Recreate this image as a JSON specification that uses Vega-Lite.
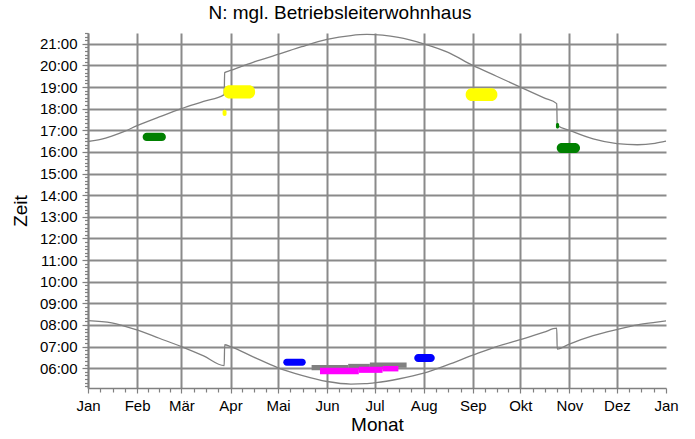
{
  "$schema": "https://vega.github.io/schema/vega-lite/v6.json",
  "width": 578,
  "height": 355,
  "autosize": {"type": "none"},
  "padding": {"left": 88, "top": 33, "right": 29, "bottom": 51},
  "background": "white",
  "title": {"text": "N: mgl. Betriebsleiterwohnhaus", "font": "Liberation Sans", "fontSize": 19, "fontWeight": "normal", "color": "black", "offset": 9, "anchor": "middle", "dx": -37},
  "config": {
    "view": {"stroke": null},
    "axis": {
      "domainColor": "#808080", "domainWidth": 1.5,
      "tickColor": "#808080", "tickWidth": 1.2,
      "gridColor": "#8a8a8a", "gridWidth": 2,
      "labelFont": "Liberation Sans", "labelFontSize": 15, "labelColor": "black",
      "titleFont": "Liberation Sans", "titleFontSize": 19, "titleFontWeight": "normal", "titleColor": "black",
      "labelOverlap": false, "labelFlush": false
    }
  },
  "datasets": {
    "sun": [
      {"s": "Aufgang", "d": 0, "t": 492}, {"s": "Aufgang", "d": 15, "t": 486}, {"s": "Aufgang", "d": 31, "t": 466},
      {"s": "Aufgang", "d": 45, "t": 443}, {"s": "Aufgang", "d": 59, "t": 420}, {"s": "Aufgang", "d": 73, "t": 394},
      {"s": "Aufgang", "d": 86, "t": 367}, {"s": "Aufgang", "d": 86.3, "t": 425}, {"s": "Aufgang", "d": 90, "t": 420},
      {"s": "Aufgang", "d": 105, "t": 390}, {"s": "Aufgang", "d": 120, "t": 361}, {"s": "Aufgang", "d": 135, "t": 340},
      {"s": "Aufgang", "d": 151, "t": 323}, {"s": "Aufgang", "d": 166, "t": 316}, {"s": "Aufgang", "d": 175, "t": 317},
      {"s": "Aufgang", "d": 182, "t": 320}, {"s": "Aufgang", "d": 196, "t": 330}, {"s": "Aufgang", "d": 212, "t": 346},
      {"s": "Aufgang", "d": 227, "t": 369}, {"s": "Aufgang", "d": 243, "t": 396}, {"s": "Aufgang", "d": 258, "t": 420},
      {"s": "Aufgang", "d": 273, "t": 439}, {"s": "Aufgang", "d": 288, "t": 460}, {"s": "Aufgang", "d": 296, "t": 471},
      {"s": "Aufgang", "d": 296.3, "t": 413}, {"s": "Aufgang", "d": 304, "t": 427}, {"s": "Aufgang", "d": 319, "t": 450},
      {"s": "Aufgang", "d": 334, "t": 467}, {"s": "Aufgang", "d": 347, "t": 480}, {"s": "Aufgang", "d": 358, "t": 487},
      {"s": "Aufgang", "d": 365, "t": 491},
      {"s": "Untergang", "d": 0, "t": 989}, {"s": "Untergang", "d": 8, "t": 995}, {"s": "Untergang", "d": 15, "t": 1004},
      {"s": "Untergang", "d": 23, "t": 1017}, {"s": "Untergang", "d": 31, "t": 1033},
      {"s": "Untergang", "d": 45, "t": 1057}, {"s": "Untergang", "d": 59, "t": 1080}, {"s": "Untergang", "d": 73, "t": 1100},
      {"s": "Untergang", "d": 86, "t": 1119}, {"s": "Untergang", "d": 86.3, "t": 1180}, {"s": "Untergang", "d": 90, "t": 1186},
      {"s": "Untergang", "d": 105, "t": 1210}, {"s": "Untergang", "d": 121, "t": 1232}, {"s": "Untergang", "d": 135, "t": 1252},
      {"s": "Untergang", "d": 151, "t": 1272}, {"s": "Untergang", "d": 166, "t": 1283}, {"s": "Untergang", "d": 176, "t": 1286},
      {"s": "Untergang", "d": 186, "t": 1284}, {"s": "Untergang", "d": 196, "t": 1278}, {"s": "Untergang", "d": 212, "t": 1260},
      {"s": "Untergang", "d": 227, "t": 1237}, {"s": "Untergang", "d": 243, "t": 1200}, {"s": "Untergang", "d": 258, "t": 1170},
      {"s": "Untergang", "d": 273, "t": 1140}, {"s": "Untergang", "d": 288, "t": 1110}, {"s": "Untergang", "d": 296, "t": 1094},
      {"s": "Untergang", "d": 296.3, "t": 1034}, {"s": "Untergang", "d": 304, "t": 1020}, {"s": "Untergang", "d": 319, "t": 996},
      {"s": "Untergang", "d": 334, "t": 983}, {"s": "Untergang", "d": 347, "t": 980}, {"s": "Untergang", "d": 358, "t": 984},
      {"s": "Untergang", "d": 365, "t": 990}
    ],
    "schatten": [
      {"wea": "WEA 1", "d1": 34.5, "d2": 49.2, "t1": 990, "t2": 1013},
      {"wea": "WEA 1", "d1": 295.5, "d2": 297.5, "t1": 1025, "t2": 1040},
      {"wea": "WEA 1", "d1": 296, "d2": 310.7, "t1": 957, "t2": 985},
      {"wea": "WEA 2", "d1": 85.5, "d2": 105.5, "t1": 1108, "t2": 1145},
      {"wea": "WEA 2", "d1": 85, "d2": 87.5, "t1": 1060, "t2": 1077},
      {"wea": "WEA 2", "d1": 238.5, "d2": 258.5, "t1": 1101, "t2": 1137},
      {"wea": "WEA 3", "d1": 123.3, "d2": 137.5, "t1": 367, "t2": 386},
      {"wea": "WEA 3", "d1": 206, "d2": 219, "t1": 377, "t2": 399},
      {"wea": "WEA 4", "d1": 141.2, "d2": 164.3, "t1": 354, "t2": 369},
      {"wea": "WEA 4", "d1": 164.3, "d2": 178, "t1": 357, "t2": 372},
      {"wea": "WEA 4", "d1": 178, "d2": 201.2, "t1": 361, "t2": 376},
      {"wea": "WEA 5", "d1": 146.5, "d2": 171, "t1": 343, "t2": 361},
      {"wea": "WEA 5", "d1": 171, "d2": 186, "t1": 347, "t2": 364},
      {"wea": "WEA 5", "d1": 186, "d2": 196, "t1": 351, "t2": 366}
    ]
  },
  "resolve": {"axis": {"x": "independent", "y": "independent"}},
  "layer": [
    {
      "data": {"values": [{"d": 0, "t": 305}]},
      "mark": {"type": "point", "opacity": 0},
      "encoding": {
        "x": {"field": "d", "type": "quantitative", "scale": {"domain": [0, 365], "nice": false, "zero": false},
          "axis": {"orient": "bottom", "title": null, "labels": false, "grid": false, "domain": false, "tickSize": 4,
            "values": [7.75, 15.5, 23.25, 38, 45, 52, 66.75, 74.5, 82.25, 97.5, 105, 112.5, 127.75, 135.5, 143.25, 158.5, 166, 173.5, 188.75, 196.5, 204.25, 219.75, 227.5, 235.25, 250.5, 258, 265.5, 280.75, 288.5, 296.25, 311.5, 319, 326.5, 341.75, 349.5, 357.25]}},
        "y": {"field": "t", "type": "quantitative", "scale": {"domain": [305, 1290], "nice": false, "zero": false},
          "axis": {"orient": "left", "title": null, "labels": false, "grid": false, "domain": false, "tickSize": 3.5,
            "values": [310,320,330,340,350,360,370,380,390,400,410,420,430,440,450,460,470,480,490,500,510,520,530,540,550,560,570,580,590,600,610,620,630,640,650,660,670,680,690,700,710,720,730,740,750,760,770,780,790,800,810,820,830,840,850,860,870,880,890,900,910,920,930,940,950,960,970,980,990,1000,1010,1020,1030,1040,1050,1060,1070,1080,1090,1100,1110,1120,1130,1140,1150,1160,1170,1180,1190,1200,1210,1220,1230,1240,1250,1260,1270,1280,1290]}}
      }
    },
    {
      "data": {"name": "sun"},
      "mark": {"type": "line", "color": "#808080", "strokeWidth": 1.3, "interpolate": "monotone"},
      "encoding": {
        "x": {"field": "d", "type": "quantitative", "scale": {"domain": [0, 365], "nice": false, "zero": false},
          "axis": {"orient": "bottom", "title": "Monat", "titlePadding": 2, "tickSize": 5, "labelPadding": 5,
            "values": [0, 31, 59, 90, 120, 151, 181, 212, 243, 273, 304, 334, 365],
            "labelExpr": "['Jan','Feb','Mär','Apr','Mai','Jun','Jul','Aug','Sep','Okt','Nov','Dez','Jan'][indexof([0,31,59,90,120,151,181,212,243,273,304,334,365], datum.value)]",
            "grid": true,
            "gridOpacity": {"condition": {"test": "datum.value >= 365", "value": 0}, "value": 1}}},
        "y": {"field": "t", "type": "quantitative", "scale": {"domain": [305, 1290], "nice": false, "zero": false},
          "axis": {"orient": "left", "title": "Zeit", "titlePadding": 9, "tickSize": 6, "labelPadding": 5,
            "values": [360, 420, 480, 540, 600, 660, 720, 780, 840, 900, 960, 1020, 1080, 1140, 1200, 1260],
            "labelExpr": "(floor(datum.value / 60) < 10 ? '0' : '') + floor(datum.value / 60) + ':00'",
            "grid": true}},
        "detail": {"field": "s"}
      }
    },
    {
      "data": {"name": "schatten"},
      "transform": [{"filter": {"field": "wea", "oneOf": ["WEA 4", "WEA 5"]}}],
      "mark": {"type": "rect"},
      "encoding": {
        "x": {"field": "d1", "type": "quantitative", "axis": null},
        "x2": {"field": "d2"},
        "y": {"field": "t1", "type": "quantitative", "axis": null},
        "y2": {"field": "t2"},
        "color": {"field": "wea", "type": "nominal", "legend": null,
          "scale": {"domain": ["WEA 1", "WEA 2", "WEA 3", "WEA 4", "WEA 5"], "range": ["#008000", "#ffff00", "#0000ff", "#808080", "#ff00ff"]}}
      }
    },
    {
      "data": {"name": "schatten"},
      "transform": [{"filter": {"field": "wea", "oneOf": ["WEA 1", "WEA 2", "WEA 3"]}}],
      "mark": {"type": "rect", "cornerRadius": 6},
      "encoding": {
        "x": {"field": "d1", "type": "quantitative", "axis": null},
        "x2": {"field": "d2"},
        "y": {"field": "t1", "type": "quantitative", "axis": null},
        "y2": {"field": "t2"},
        "color": {"field": "wea", "type": "nominal", "legend": null,
          "scale": {"domain": ["WEA 1", "WEA 2", "WEA 3", "WEA 4", "WEA 5"], "range": ["#008000", "#ffff00", "#0000ff", "#808080", "#ff00ff"]}}
      }
    }
  ]
}
